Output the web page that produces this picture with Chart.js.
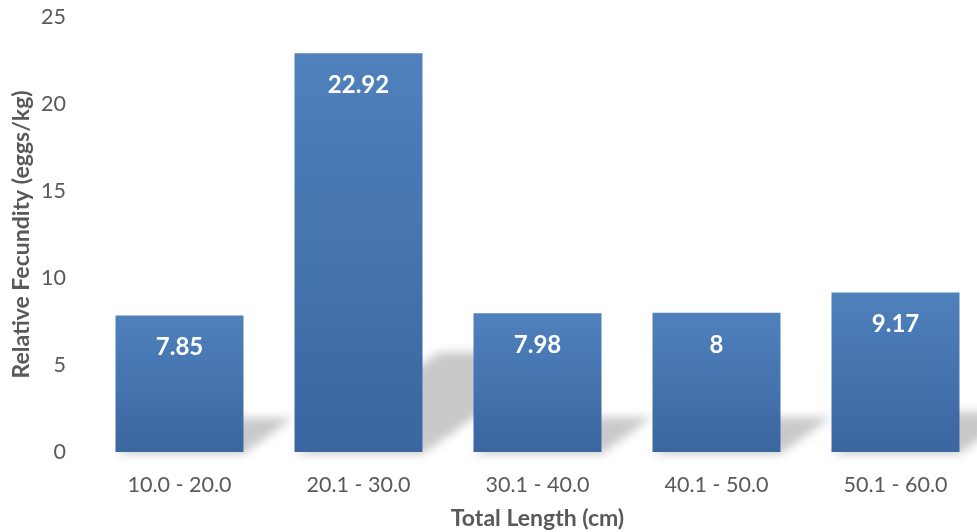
<!DOCTYPE html>
<html>
<head>
<meta charset="utf-8">
<script src="https://cdn.jsdelivr.net/npm/chart.js@4/dist/chart.umd.min.js"></script>
<style>
  html,body{margin:0;padding:0;background:#fff;overflow:hidden;}
  #wrap{position:relative;width:995px;height:532px;}
</style>
</head>
<body>
<div id="wrap"><canvas id="fecundityChart"></canvas></div>
<script>
const lengthClasses=["10.0 - 20.0","20.1 - 30.0","30.1 - 40.0","40.1 - 50.0","50.1 - 60.0"];
const fecundity=[7.85,22.92,7.98,8,9.17];
const yTicks=[0,5,10,15,20,25];

const textGrey="#595959";
const fontFamily="Lato, 'Open Sans', sans-serif";

// per-bar vertical gradient, lighter at the top
function barFill(ctx){
  const chart=ctx.chart;
  if(!chart.chartArea || ctx.dataIndex===undefined) return "#4a7ab5";
  const ys=chart.scales.y;
  const top=ys.getPixelForValue(fecundity[ctx.dataIndex]);
  const bottom=ys.getPixelForValue(0);
  const g=chart.ctx.createLinearGradient(0,top,0,bottom);
  g.addColorStop(0,"#4f81bd");
  g.addColorStop(1,"#3b669f");
  return g;
}

// soft slanted shadow cast to the right of each bar
const barShadow={
  id:"barShadow",
  beforeDatasetsDraw(chart){
    const c=chart.ctx;
    const meta=chart.getDatasetMeta(0);
    c.save();
    c.filter="blur(5px)";
    c.fillStyle="rgba(0,0,0,0.21)";
    meta.data.forEach(bar=>{
      const half=bar.width/2;
      const sh=0.25*(bar.base-bar.y);
      const dx=1.45*sh;
      c.beginPath();
      c.moveTo(bar.x-half,bar.base+2);
      c.lineTo(bar.x+half,bar.base+2);
      c.lineTo(bar.x+half+dx,bar.base-sh);
      c.lineTo(bar.x-half+dx,bar.base-sh);
      c.closePath();
      c.fill();
    });
    c.restore();
  }
};

// value labels inside the top of each bar
const valueLabels={
  id:"valueLabels",
  afterDatasetsDraw(chart){
    const c=chart.ctx;
    const meta=chart.getDatasetMeta(0);
    c.save();
    c.font="bold 24px "+fontFamily;
    c.fillStyle="#ffffff";
    c.textAlign="center";
    c.textBaseline="middle";
    meta.data.forEach((bar,i)=>{
      c.fillText(String(fecundity[i]),bar.x,bar.y+32);
    });
    c.restore();
  }
};

new Chart(document.getElementById("fecundityChart"),{
  type:"bar",
  data:{
    labels:lengthClasses,
    datasets:[{
      data:fecundity,
      backgroundColor:barFill,
      borderWidth:0,
      barPercentage:0.715,
      categoryPercentage:1
    }]
  },
  options:{
    responsive:true,
    maintainAspectRatio:false,
    animation:false,
    layout:{padding:{top:17,right:10,left:0,bottom:0}},
    plugins:{legend:{display:false},tooltip:{enabled:false}},
    scales:{
      x:{
        grid:{display:false},
        border:{display:false},
        ticks:{color:textGrey,font:{family:fontFamily,size:21.5},padding:12},
        title:{display:true,text:"Total Length (cm)",color:textGrey,
               font:{family:fontFamily,size:23,weight:"bold"},padding:{top:0,bottom:0}},
        afterFit(scale){scale.height=80;}
      },
      y:{
        min:yTicks[0],
        max:yTicks[yTicks.length-1],
        grid:{display:false},
        border:{display:false},
        ticks:{stepSize:5,color:textGrey,font:{family:fontFamily,size:21.5},padding:16},
        title:{display:true,text:"Relative Fecundity (eggs/kg)",color:textGrey,
               font:{family:fontFamily,size:23,weight:"bold"},padding:{top:8,bottom:0}},
        afterFit(scale){
          scale.width=90;
          scale.paddingTop=0;
          scale.paddingBottom=0;
        }
      }
    }
  },
  plugins:[barShadow,valueLabels]
});
</script>
</body>
</html>
